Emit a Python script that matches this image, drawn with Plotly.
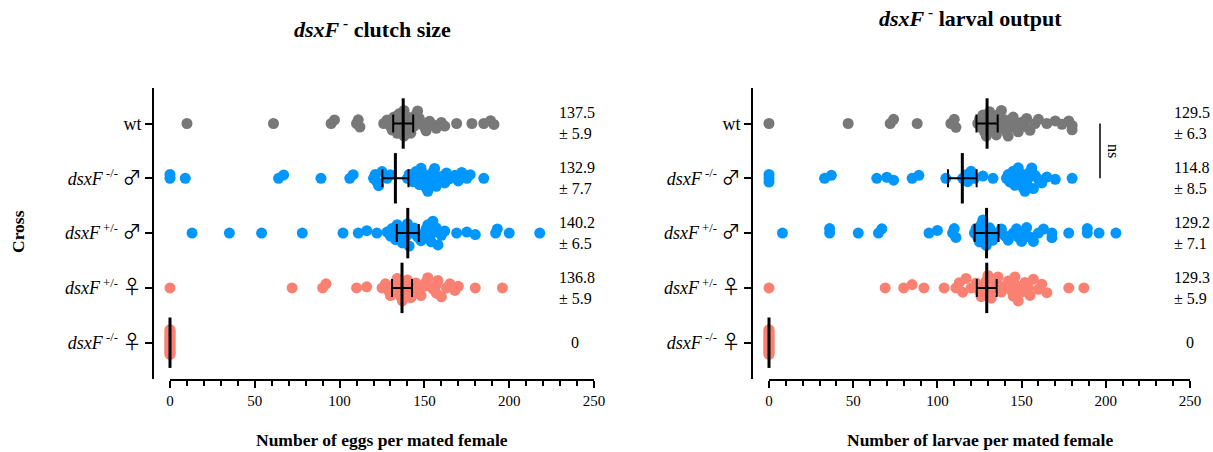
import math
import plotly.graph_objects as go

W, H = 1213, 452

# ---------------- data ----------------
categories = ["wt", "dsxF -/- male", "dsxF +/- male", "dsxF +/- female", "dsxF -/- female"]
SYM = "<span style='font-family:Noto Sans CJK JP;font-size:19px'>%s</span>"
tick_labels = ["wt",
               "<i>dsxF</i><sup> -/-</sup> " + SYM % "♂",
               "<i>dsxF</i><sup> +/-</sup> " + SYM % "♂",
               "<i>dsxF</i><sup> +/-</sup> " + SYM % "♀",
               "<i>dsxF</i><sup> -/-</sup> " + SYM % "♀"]
x_ticks = [0, 50, 100, 150, 200, 250]

clutch_wt = [10, 61, 95, 97, 110, 111, 112, 126, 128, 130, 131, 132, 133, 134, 135, 136, 137,
             138, 138, 139, 140, 141, 142, 143, 144, 145, 146, 147, 148, 150, 151, 153, 155,
             157, 160, 162, 169, 178, 185, 189, 191]
clutch_mm_m = [0, 0, 9, 64, 67, 89, 106, 108, 120, 121, 122, 123, 125, 128, 130, 140, 141, 143,
               145, 146, 147, 148, 149, 150, 151, 152, 153, 154, 155, 156, 157, 158, 160, 162,
               163, 165, 168, 170, 172, 175, 177, 185]
clutch_pm_m = [13, 35, 54, 78, 102, 111, 116, 122, 128, 130, 131, 133, 134, 136, 137, 138, 139,
               140, 141, 143, 144, 146, 148, 150, 151, 152, 153, 154, 155, 156, 157, 158, 160,
               162, 169, 175, 180, 192, 193, 200, 218]
clutch_pm_f = [0, 72, 90, 92, 110, 116, 125, 127, 129, 130, 132, 133, 134, 135, 136, 137, 138,
               139, 140, 141, 142, 144, 145, 147, 148, 150, 151, 152, 155, 157, 157, 158, 160,
               163, 165, 168, 170, 180, 196]
clutch_mm_f = [0, 0, 0, 0, 0, 0, 0, 0, 0, 0, 0, 0, 0, 0, 0, 0, 0, 0, 0, 0]

larval_wt = [0, 47, 72, 74, 88, 108, 110, 111, 124, 125, 126, 127, 128, 129, 130, 131, 132, 133,
             134, 135, 136, 137, 138, 139, 140, 141, 142, 144, 145, 146, 148, 150, 152, 153,
             155, 158, 160, 165, 170, 174, 178, 180, 180]
larval_mm_m = [0, 0, 0, 33, 37, 64, 70, 74, 85, 89, 105, 115, 117, 118, 120, 122, 127, 133, 141,
               142, 143, 145, 146, 147, 148, 149, 150, 151, 152, 153, 154, 155, 156, 157, 158,
               160, 162, 165, 170, 180]
larval_pm_m = [8, 36, 36, 53, 65, 67, 95, 100, 109, 110, 111, 122, 123, 124, 125, 126, 127, 128,
               129, 130, 131, 133, 135, 138, 140, 142, 145, 147, 148, 150, 152, 153, 155, 157,
               160, 163, 168, 168, 178, 189, 189, 196, 206]
larval_pm_f = [0, 69, 80, 85, 92, 104, 111, 113, 115, 117, 120, 123, 125, 126, 128, 129, 130,
               131, 132, 134, 135, 136, 138, 140, 142, 144, 145, 146, 147, 148, 150, 152, 154,
               155, 157, 160, 162, 165, 178, 187]
larval_mm_f = [0, 0, 0, 0, 0, 0, 0, 0, 0, 0, 0, 0, 0, 0, 0, 0, 0, 0, 0, 0]

clutch_mean = [137.5, 132.9, 140.2, 136.8, 0]
clutch_sem = [5.9, 7.7, 6.5, 5.9, 0]
larval_mean = [129.5, 114.8, 129.2, 129.3, 0]
larval_sem = [6.3, 8.5, 7.1, 5.9, 0]

colors = ["#787878", "#0096ff", "#0096ff", "#fa8072", "#fa8072"]

clutch_groups = [clutch_wt, clutch_mm_m, clutch_pm_m, clutch_pm_f, clutch_mm_f]
larval_groups = [larval_wt, larval_mm_m, larval_pm_m, larval_pm_f, larval_mm_f]

# ---------------- layout geometry ----------------
X0_L, X1_L, YAX_L = 170, 594, 153
X0_R, X1_R, YAX_R = 769, 1190, 752
Y_TOP, Y_BOT = 88, 379
ROW0, ROW_STEP = 123.5, 54.8
y_range = [(Y_BOT - ROW0) / ROW_STEP, -(ROW0 - Y_TOP) / ROW_STEP]
y_dom = [1 - Y_BOT / H, 1 - Y_TOP / H]


def swarm(vals, px_per_unit, d=10.5, cap=13.0):
    xs = sorted(vals)
    placed = []
    offs = []
    for v in xs:
        x = v * px_per_unit
        cands = [0.0]
        for (px, py) in placed:
            dx = x - px
            if abs(dx) < d:
                dy = math.sqrt(d * d - dx * dx)
                cands += [py + dy, py - dy]
        cands.sort(key=lambda c: (abs(c), c))
        chosen = cands[-1]
        for c in cands:
            if all((x - px) ** 2 + (c - py) ** 2 >= d * d - 1e-6 for px, py in placed):
                chosen = c
                break
        placed.append((x, chosen))
        offs.append(chosen)
    m = max(abs(o) for o in offs) if offs else 0
    if m > cap:
        offs = [o * cap / m for o in offs]
    return xs, [o / ROW_STEP for o in offs]


fig = go.Figure()


def add_panel(groups, means, sems, xa, ya, ppu):
    for i, (vals, col) in enumerate(zip(groups, colors)):
        xs, offs = swarm(vals, ppu)
        fig.add_trace(go.Scatter(
            x=xs, y=[i + o for o in offs], mode="markers", xaxis=xa, yaxis=ya,
            marker=dict(size=11, color=col, line=dict(width=0)),
            cliponaxis=False, hoverinfo="skip", showlegend=False))
    fig.add_trace(go.Scatter(
        x=means, y=list(range(len(means))), mode="markers", xaxis=xa, yaxis=ya,
        marker=dict(symbol="line-ns", size=36, color="black",
                    line=dict(width=3, color="black")),
        error_x=dict(type="data", array=sems, thickness=2, width=9, color="black"),
        cliponaxis=False, hoverinfo="skip", showlegend=False))


add_panel(clutch_groups, clutch_mean, clutch_sem, "x", "y", (X1_L - X0_L) / 250)
add_panel(larval_groups, larval_mean, larval_sem, "x2", "y2", (X1_R - X0_R) / 250)

axis_font = dict(family="Liberation Serif", size=15, color="black")
cat_font = dict(family="Liberation Serif", size=18, color="black")


def xaxis(x0, x1, anchor):
    return dict(domain=[x0 / W, x1 / W], range=[0, 250], anchor=anchor,
                showline=True, linewidth=2, linecolor="black",
                ticks="outside", ticklen=7, tickwidth=2, tickcolor="black",
                tickvals=x_ticks, tickfont=axis_font,
                minor=dict(tickvals=list(range(0, 251, 10)), ticks="outside",
                           ticklen=5, tickwidth=2, tickcolor="black"),
                showgrid=False, zeroline=False, fixedrange=True, automargin=False)


def yaxis(pos):
    return dict(domain=y_dom, range=y_range, anchor="free", position=pos / W,
                showline=True, linewidth=2, linecolor="black",
                ticks="outside", ticklen=7, tickwidth=2, tickcolor="black",
                tickvals=list(range(len(categories))), ticktext=tick_labels,
                tickfont=cat_font, showgrid=False, zeroline=False, fixedrange=True,
                automargin=False)


num_font = dict(family="Liberation Serif", size=16, color="black")
annotations = []
for i in range(len(categories)):
    for means, sems, xp in ((clutch_mean, clutch_sem, 557), (larval_mean, larval_sem, 1172)):
        if means[i] == 0:
            annotations.append(dict(x=(xp + 18) / W, xref="paper", y=i, yref="y",
                                    text="0", showarrow=False, xanchor="center",
                                    yanchor="middle", font=num_font))
        else:
            annotations.append(dict(x=xp / W, xref="paper", y=i, yref="y",
                                    text=f"{means[i]}<br>± {sems[i]}", showarrow=False,
                                    xanchor="left", align="left", yanchor="middle",
                                    font=num_font))

title_font = dict(family="Liberation Serif", size=22, color="black")
lab_font = dict(family="Liberation Serif", size=17.5, color="black")
annotations += [
    dict(x=372 / W, y=1 - 28 / H, xref="paper", yref="paper", showarrow=False,
         xanchor="center", yanchor="middle",
         text="<b><i>dsxF</i><sup> -</sup> clutch size</b>", font=title_font),
    dict(x=970 / W, y=1 - 17 / H, xref="paper", yref="paper", showarrow=False,
         xanchor="center", yanchor="middle",
         text="<b><i>dsxF</i><sup> -</sup> larval output</b>", font=title_font),
    dict(x=(X0_L + X1_L) / 2 / W, y=1 - 440 / H, xref="paper", yref="paper", showarrow=False,
         xanchor="center", yanchor="middle",
         text="<b>Number of eggs per mated female</b>", font=lab_font),
    dict(x=(X0_R + X1_R) / 2 / W, y=1 - 440 / H, xref="paper", yref="paper", showarrow=False,
         xanchor="center", yanchor="middle",
         text="<b>Number of larvae per mated female</b>", font=lab_font),
    dict(x=18 / W, y=1 - 232 / H, xref="paper", yref="paper", showarrow=False,
         xanchor="center", yanchor="middle",
         text="<b>Cross</b>", textangle=-90, font=lab_font),
    dict(x=1113 / W, y=0.5, xref="paper", yref="y2", showarrow=False,
         xanchor="center", yanchor="middle", text="ns", textangle=90,
         font=dict(family="Liberation Serif", size=16, color="black")),
]

shapes = [dict(type="line", xref="paper", yref="y2", x0=1100 / W, x1=1100 / W, y0=0, y1=1,
               line=dict(color="black", width=1.5))]

fig.update_layout(
    width=W, height=H, margin=dict(l=0, r=0, t=0, b=0, pad=0, autoexpand=False),
    paper_bgcolor="white", plot_bgcolor="white", showlegend=False,
    font=dict(family="Liberation Serif", color="black"),
    xaxis=xaxis(X0_L, X1_L, "y"), yaxis=yaxis(YAX_L),
    xaxis2=xaxis(X0_R, X1_R, "y2"), yaxis2=yaxis(YAX_R),
    annotations=annotations, shapes=shapes,
)

fig.write_html(
    "out.html",
    config={"responsive": False, "displayModeBar": False},
    post_script=("document.body.style.margin='0';document.body.style.padding='0';"
                 "document.body.style.overflow='hidden';"
                 "var gd=document.getElementById('{plot_id}');"
                 "Plotly.relayout(gd,{width:%d,height:%d});" % (W, H)),
)
